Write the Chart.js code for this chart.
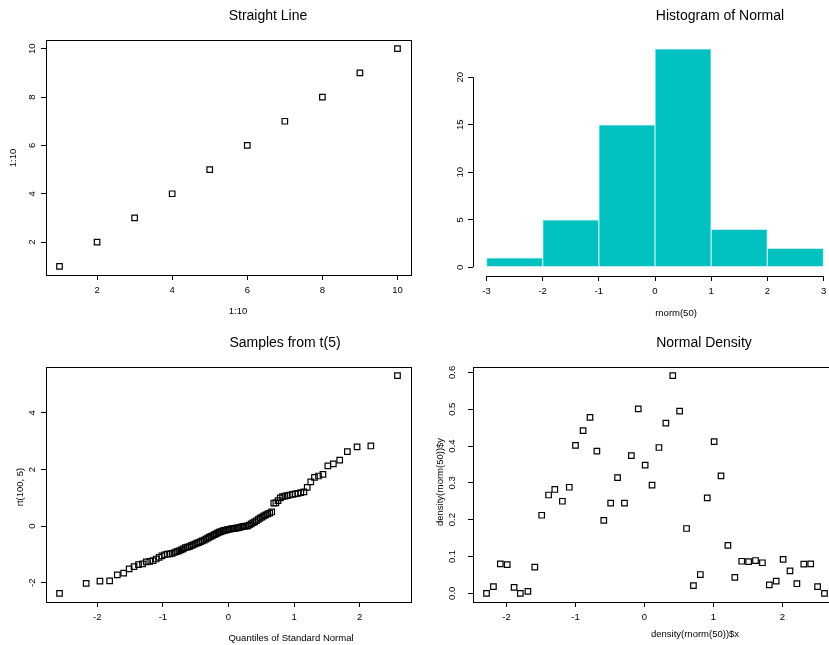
<!DOCTYPE html>
<html>
<head>
<meta charset="utf-8">
<title>2x2 plots</title>
<script src="https://cdn.jsdelivr.net/npm/chart.js@4.4.1/dist/chart.umd.min.js"></script>
<style>
  html, body { margin: 0; padding: 0; background: #fff; overflow: hidden; width: 829px; height: 645px; }
  canvas { position: absolute; }
</style>
</head>
<body>
<canvas id="c1" width="420" height="322" style="left:0px;top:0px"></canvas>
<canvas id="c2" width="430" height="322" style="left:420px;top:0px"></canvas>
<canvas id="c3" width="420" height="323" style="left:0px;top:322px"></canvas>
<canvas id="c4" width="430" height="323" style="left:420px;top:322px"></canvas>
<script>
// top left: straight line
const lineX = [1, 2, 3, 4, 5, 6, 7, 8, 9, 10];
const lineY = [1, 2, 3, 4, 5, 6, 7, 8, 9, 10];
const lineTicks = [2, 4, 6, 8, 10];

// top right: histogram
const histBreaks = [-3, -2, -1, 0, 1, 2, 3];
const histCounts = [1, 5, 15, 23, 4, 2];
const histYTicks = [0, 5, 10, 15, 20];

// bottom left: qq plot of t(5)
const qqTheory = [
  -2.576, -2.170, -1.960, -1.812, -1.695, -1.598, -1.514, -1.440, -1.372, -1.311,
  -1.254, -1.200, -1.150, -1.103, -1.058, -1.015, -0.974, -0.935, -0.896, -0.860,
  -0.824, -0.789, -0.755, -0.722, -0.690, -0.659, -0.628, -0.598, -0.568, -0.539,
  -0.510, -0.482, -0.454, -0.426, -0.399, -0.372, -0.345, -0.319, -0.292, -0.266,
  -0.240, -0.215, -0.189, -0.164, -0.138, -0.113, -0.088, -0.063, -0.038, -0.013,
  0.013, 0.038, 0.063, 0.088, 0.113, 0.138, 0.164, 0.189, 0.215, 0.240,
  0.266, 0.292, 0.319, 0.345, 0.372, 0.399, 0.426, 0.454, 0.482, 0.510,
  0.539, 0.568, 0.598, 0.628, 0.659, 0.690, 0.722, 0.755, 0.789, 0.824,
  0.860, 0.896, 0.935, 0.974, 1.015, 1.058, 1.103, 1.150, 1.200, 1.254,
  1.311, 1.372, 1.440, 1.514, 1.598, 1.695, 1.812, 1.960, 2.170, 2.576,
];
const qqSample = [
  -2.37, -2.02, -1.94, -1.93, -1.72, -1.66, -1.51, -1.43, -1.36, -1.33,
  -1.26, -1.24, -1.22, -1.16, -1.10, -1.05, -1.01, -0.99, -0.98, -0.96,
  -0.93, -0.90, -0.87, -0.84, -0.80, -0.76, -0.74, -0.72, -0.69, -0.66,
  -0.63, -0.60, -0.58, -0.55, -0.52, -0.49, -0.46, -0.42, -0.39, -0.36,
  -0.33, -0.30, -0.27, -0.24, -0.21, -0.19, -0.17, -0.15, -0.14, -0.12,
  -0.11, -0.10, -0.09, -0.08, -0.07, -0.06, -0.05, -0.03, -0.02, -0.01,
  0.00, 0.01, 0.04, 0.08, 0.12, 0.15, 0.19, 0.24, 0.28, 0.32,
  0.36, 0.40, 0.43, 0.46, 0.50, 0.81, 0.82, 0.90, 1.00, 1.04,
  1.06, 1.08, 1.10, 1.12, 1.14, 1.16, 1.18, 1.21, 1.37, 1.56,
  1.72, 1.77, 1.83, 2.13, 2.20, 2.33, 2.63, 2.80, 2.83, 5.31,
];
const qqXTicks = [-2, -1, 0, 1, 2];
const qqYTicks = [-2, 0, 2, 4];

// bottom right: density points
const densX = [
  -2.29, -2.19, -2.09, -1.99, -1.89, -1.80, -1.69, -1.59, -1.49, -1.39,
  -1.30, -1.19, -1.09, -1.00, -0.89, -0.79, -0.69, -0.59, -0.49, -0.39,
  -0.29, -0.19, -0.09, 0.01, 0.11, 0.21, 0.31, 0.41, 0.51, 0.61,
  0.71, 0.81, 0.91, 1.01, 1.11, 1.21, 1.31, 1.41, 1.51, 1.61,
  1.71, 1.81, 1.91, 2.01, 2.11, 2.21, 2.31, 2.41, 2.51, 2.61,
];
const densY = [
  0.000, 0.018, 0.080, 0.078, 0.016, 0.000, 0.005, 0.071, 0.212, 0.267,
  0.282, 0.250, 0.288, 0.402, 0.442, 0.478, 0.386, 0.198, 0.245, 0.314,
  0.245, 0.374, 0.501, 0.348, 0.294, 0.396, 0.462, 0.591, 0.495, 0.176,
  0.021, 0.051, 0.259, 0.412, 0.319, 0.130, 0.043, 0.087, 0.086, 0.089,
  0.083, 0.023, 0.033, 0.092, 0.061, 0.026, 0.079, 0.080, 0.018, 0.000,
];
const densXTicks = [-2, -1, 0, 1, 2];
const densYTicks = [0, 0.1, 0.2, 0.3, 0.4, 0.5, 0.6];

const FONT = '"Liberation Sans", Arial, sans-serif';
Chart.defaults.font.family = FONT;
Chart.defaults.color = "#000";

// R style: range stretched by 4% on both sides
function rRange(vals) {
  const lo = Math.min(...vals), hi = Math.max(...vals);
  const d = (hi - lo) * 0.04;
  return { min: lo - d, max: hi + d };
}

// titles, axis labels, rotated y tick labels, box / axis lines
const rDecor = {
  id: "rDecor",
  afterDraw(chart, args, o) {
    const ctx = chart.ctx;
    const a = chart.chartArea;
    const xs = chart.scales.x, ys = chart.scales.y;
    ctx.save();
    ctx.fillStyle = "#000";
    ctx.textAlign = "center";
    ctx.textBaseline = "middle";

    ctx.font = "14px " + FONT;
    ctx.fillText(o.title, o.titleAt[0], o.titleAt[1]);

    ctx.font = "9.5px " + FONT;
    ctx.fillText(o.xlab, o.xlabAt[0], o.xlabAt[1]);
    if (o.ylab) {
      ctx.save();
      ctx.translate(o.ylabAt[0], o.ylabAt[1]);
      ctx.rotate(-Math.PI / 2);
      ctx.fillText(o.ylab, 0, 0);
      ctx.restore();
    }

    ys.ticks.forEach((t) => {
      const p = ys.getPixelForValue(t.value);
      ctx.save();
      ctx.translate(o.yTickX, p);
      ctx.rotate(-Math.PI / 2);
      ctx.fillText(t.value.toFixed(o.yDigits || 0), 0, 0);
      ctx.restore();
    });

    ctx.strokeStyle = "#000";
    ctx.lineWidth = 1;
    if (o.box) {
      ctx.strokeRect(a.left + 0.5, a.top + 0.5, a.right - a.left, a.bottom - a.top);
    } else {
      const xt = xs.ticks, yt = ys.ticks;
      ctx.beginPath();
      ctx.moveTo(xs.getPixelForValue(xt[0].value), a.bottom + 0.5);
      ctx.lineTo(xs.getPixelForValue(xt[xt.length - 1].value), a.bottom + 0.5);
      ctx.moveTo(a.left + 0.5, ys.getPixelForValue(yt[0].value));
      ctx.lineTo(a.left + 0.5, ys.getPixelForValue(yt[yt.length - 1].value));
      ctx.stroke();
    }
    ctx.restore();
  },
};

function xAxis(range, ticks, height) {
  return {
    type: "linear",
    min: range.min,
    max: range.max,
    offset: false,
    border: { display: false },
    grid: { offset: false, drawOnChartArea: false, drawTicks: true, tickLength: 5, color: "#000" },
    ticks: { font: { size: 9.5 }, color: "#000", padding: 5, autoSkip: false, maxRotation: 0 },
    afterBuildTicks: (s) => { s.ticks = ticks.map((v) => ({ value: v })); },
    afterFit: (s) => { s.height = height; },
  };
}

function yAxis(range, ticks, width) {
  return {
    type: "linear",
    min: range.min,
    max: range.max,
    border: { display: false },
    grid: { drawOnChartArea: false, drawTicks: true, tickLength: 5, color: "#000" },
    ticks: { display: false },
    afterBuildTicks: (s) => { s.ticks = ticks.map((v) => ({ value: v })); },
    afterFit: (s) => { s.width = width; },
  };
}

function baseOptions(pad, decor, scales) {
  return {
    responsive: false,
    animation: false,
    events: [],
    layout: { padding: pad },
    plugins: { legend: { display: false }, tooltip: { enabled: false }, rDecor: decor },
    scales: scales,
  };
}

const squares = {
  pointStyle: "rect",
  pointRadius: 3.9,
  pointBorderWidth: 1.2,
  pointBorderColor: "#000",
  pointBackgroundColor: "rgba(0,0,0,0)",
};

new Chart(document.getElementById("c1"), {
  type: "scatter",
  data: { datasets: [{ data: lineX.map((x, i) => ({ x: x, y: lineY[i] })), ...squares }] },
  options: baseOptions(
    { left: 0, top: 40, right: 9, bottom: 0 },
    { title: "Straight Line", titleAt: [268, 16], xlab: "1:10", xlabAt: [238, 311],
      ylab: "1:10", ylabAt: [13, 158], yTickX: 32, box: true },
    { x: xAxis(rRange(lineX), lineTicks, 47), y: yAxis(rRange(lineY), lineTicks, 46) }
  ),
  plugins: [rDecor],
});

new Chart(document.getElementById("c2"), {
  type: "bar",
  data: {
    datasets: [{
      data: histCounts.map((c, i) => ({ x: (histBreaks[i] + histBreaks[i + 1]) / 2, y: c })),
      backgroundColor: "#00c0c0",
      borderColor: "#c0eeee",
      borderWidth: 1,
      borderSkipped: false,
      barPercentage: 1,
      categoryPercentage: 1,
    }],
  },
  options: baseOptions(
    { left: 0, top: 40, right: 13, bottom: 0 },
    { title: "Histogram of Normal", titleAt: [300, 16], xlab: "rnorm(50)", xlabAt: [256, 313],
      yTickX: 40, box: false },
    { x: xAxis(rRange(histBreaks), histBreaks, 46), y: yAxis(rRange([0, ...histCounts]), histYTicks, 53) }
  ),
  plugins: [rDecor],
});

new Chart(document.getElementById("c3"), {
  type: "scatter",
  data: { datasets: [{ data: qqTheory.map((x, i) => ({ x: x, y: qqSample[i] })), ...squares }] },
  options: baseOptions(
    { left: 0, top: 45, right: 9, bottom: 0 },
    { title: "Samples from t(5)", titleAt: [285, 21], xlab: "Quantiles of Standard Normal", xlabAt: [291, 316],
      ylab: "rt(100, 5)", ylabAt: [20, 165], yTickX: 32.5, box: true },
    { x: xAxis(rRange(qqTheory), qqXTicks, 43), y: yAxis(rRange(qqSample), qqYTicks, 46) }
  ),
  plugins: [rDecor],
});

new Chart(document.getElementById("c4"), {
  type: "scatter",
  data: { datasets: [{ data: densX.map((x, i) => ({ x: x, y: densY[i] })), ...squares }] },
  options: baseOptions(
    { left: 0, top: 45, right: 12, bottom: 0 },
    { title: "Normal Density", titleAt: [284, 21], xlab: "density(rnorm(50))$x", xlabAt: [275, 312],
      ylab: "density(rnorm(50))$y", ylabAt: [20, 160], yTickX: 32.5, yDigits: 1, box: true },
    { x: xAxis(rRange(densX), densXTicks, 43), y: yAxis(rRange(densY), densYTicks, 53) }
  ),
  plugins: [rDecor],
});
</script>
</body>
</html>
